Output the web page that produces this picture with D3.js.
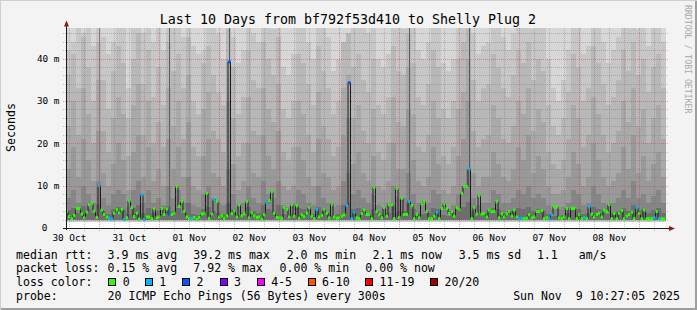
<!DOCTYPE html>
<html><head><meta charset="utf-8">
<script src="https://cdn.jsdelivr.net/npm/d3@7"></script>
<style>
html,body{margin:0;padding:0;background:#f3f3f3;}
svg{display:block;}
text{font-family:"DejaVu Sans Mono",monospace;fill:#000;white-space:pre;}
</style>
</head><body>
<svg id="c" width="697" height="310"></svg>
<script>
// ---------- data ----------
const title = "Last 10 Days from bf792f53d410 to Shelly Plug 2";
const endTime = new Date(2025, 10, 9, 10, 27, 5);
const spanDays = 10;
const yMax = 47.2;              // ms, top of the plot
const yGridMinorStep = 2;       // ms
const yLabelValues = [0, 10, 20, 30, 40];
const yLabelTexts = ["0", "10 m", "20 m", "30 m", "40 m"];
const yAxisTitle = "Seconds";

// hourly median rtt (ms), 240 hours
const median = [
3.9,2.7,2.2,3.0,4.6,4.6,3.3,2.4,3.8,5.5, 5.8,4.0,2.5,10.0,4.2,3.2,2.6,2.3,2.1,3.5,
4.3,3.6,4.4,2.0,2.4,6.4,4.8,2.7,3.5,2.1, 7.8,2.0,2.6,2.6,2.2,4.5,2.4,2.6,4.6,3.2,
4.5,3.3,3.2,3.5,9.8,5.1,6.3,3.9,2.6,2.2, 2.2,2.5,2.1,2.5,3.3,3.4,8.2,2.3,3.3,6.7,
6.3,2.6,2.9,2.3,2.9,39.2,3.4,4.0,2.6,5.5, 2.9,3.3,6.3,2.4,3.6,2.9,2.5,2.6,2.1,3.1,
6.0,6.5,8.6,3.5,2.5,2.4,2.3,4.8,4.4,2.6, 5.5,2.8,5.3,2.3,3.1,2.7,3.5,4.8,2.8,2.2,
4.4,2.6,3.0,4.4,3.5,2.4,5.7,2.6,2.3,2.4, 2.8,3.1,5.3,34.3,2.2,3.7,2.4,2.2,3.4,4.2,
3.2,3.2,2.2,9.6,3.9,3.1,2.4,4.8,2.8,5.5, 5.5,2.2,9.3,2.5,7.0,3.2,3.2,6.3,5.3,2.2,
3.2,2.4,5.7,6.3,3.9,2.2,2.2,2.8,3.7,2.2, 4.6,5.7,4.6,3.4,3.9,2.8,4.8,4.4,8.2,9.8,
9.8,13.9,2.2,4.8,3.3,7.7,3.3,3.4,2.6,4.2, 3.9,3.9,6.3,2.4,3.3,2.6,3.3,3.9,2.8,4.2,
2.6,2.2,2.2,2.2,2.3,3.1,2.4,2.6,3.9,3.9, 4.1,2.2,2.4,2.2,3.1,5.0,5.0,2.4,2.2,2.6,
4.6,2.2,4.6,4.6,2.2,3.1,2.2,2.4,2.2,5.0, 3.3,2.6,3.2,3.5,2.6,4.2,3.9,5.5,2.2,3.4,
2.2,3.5,4.1,2.2,2.8,3.2,3.7,2.2,4.8,3.4, 2.2,4.2,2.2,2.2,2.2,2.4,3.9,2.2,2.2,2.1
];
// hours with 1 lost ping and with 2 lost pings
const lossOneHours = [13,17,18,23,30,31,50,59,80,100,112,114,115,137,148,161,181,182,193,194,207,209,228,235,237];
const lossTwoHours = [41,65,113];
// hours whose smoke stays dark up to the top of the graph
const streakHours = [13,41,65,137,161];
const streakShades = ["#8a8a8a","#5e5e5e","#5a5a5a","#5c5c5c","#585858"];

// smoke: 2-hour columns (120), upper edges of the grey bands (ms)
const smokeMinOuter = 1.5;
const smokeMinInner = 2.0;
const smokeA = [
42,44,50,46,50,43,50,45,41,44, 50,50,33,50,50,46,50,44,50,42, 50,50,50,45,50,43,41,42,50,50,
46,40,50,45,39,42,50,46,44,50, 50,47,50,38,36,41,50,50,44,40, 50,50,45,37,40,42,44,50,50,50,
46,50,40,38,41,50,50,47,50,50, 42,40,44,50,50,39,37,40,50,50, 50,46,41,43,44,50,50,45,42,46,
50,50,50,47,50,50,40,33,30,35, 42,50,50,41,43,50,50,44,39,42, 45,50,50,50,47,50,43,50,50,44];
const smokeB = [
36,41,33,45,38,30,44,35,28,37, 43,39,26,40,46,34,42,31,38,29, 44,37,41,33,45,30,27,39,43,36,
32,29,47,38,27,31,42,35,33,44, 40,36,45,28,26,30,41,39,34,29, 43,37,33,27,30,44,46,38,41,35,
32,40,29,27,31,43,37,36,46,39, 31,29,34,42,38,28,26,30,40,44, 47,35,30,33,34,41,38,33,31,36,
42,39,44,35,40,37,29,24,22,26, 32,41,38,30,33,43,39,34,29,31, 35,42,37,44,36,40,32,38,41,33];
const smokeC = [
24,30,22,33,27,20,35,23,18,26, 31,27,17,29,34,22,30,20,25,19, 33,24,30,21,36,19,17,28,32,23,
21,18,40,26,17,20,31,23,22,33, 28,25,34,18,16,19,30,27,22,18, 32,24,21,17,19,33,36,26,29,23,
20,28,18,16,20,31,25,24,38,27, 19,18,22,30,26,17,15,19,28,32, 40,23,19,21,22,29,26,21,20,24,
30,27,33,23,28,25,18,15,14,16, 21,29,26,19,22,31,27,22,18,20, 23,30,25,33,24,28,20,26,29,21];
const smokeD = [
14,19,12,21,16,11,23,13,10,15, 20,16,9,18,22,12,19,11,14,10, 21,14,19,12,25,10,9,17,21,13,
12,10,30,15,9,11,20,13,12,22, 17,14,23,10,9,10,19,16,12,10, 21,13,12,9,10,22,26,15,18,13,
11,17,10,9,11,20,14,14,28,16, 11,10,12,19,15,9,8,10,17,21, 30,13,10,12,12,18,15,12,11,14,
19,16,22,13,17,14,10,8,8,9, 12,18,15,10,12,20,16,12,10,11, 13,19,14,22,13,17,11,15,18,12];
const smokeE = [
7,9,6,10,8,6,11,7,5.5,8, 9,8,5,9,11,6,9,6,7,5.5, 10,7,9,6,12,5.5,5,8,10,7,
6,5.5,14,8,5,6,10,7,6,11, 8,7,11,5.5,5,5.5,9,8,6,5.5, 10,7,6,5,5.5,11,13,8,9,7,
6,8,5.5,5,6,10,7,7,13,8, 6,5.5,6,9,8,5,4.5,5.5,8,10, 14,7,5.5,6,6,9,8,6,6,7,
9,8,10,7,8,7,5.5,4.5,4.5,5, 6,9,8,5.5,6,10,8,6,5.5,6, 7,9,7,11,7,8,6,7.5,9,6];
const smokeF = [
4.2,4.8,3.6,5.2,4.4,3.5,5.6,4.0,3.3,4.5, 4.9,4.3,3.2,4.8,5.5,3.6,4.7,3.5,4.0,3.3,
5.1,4.0,4.8,3.6,5.8,3.3,3.1,4.4,5.0,4.0, 3.6,3.3,6.0,4.4,3.1,3.5,5.0,4.0,3.6,5.4,
4.4,4.0,5.4,3.3,3.0,3.3,4.8,4.4,3.6,3.3, 5.0,4.0,3.6,3.1,3.3,5.4,6.0,4.4,4.8,4.0,
3.6,4.4,3.3,3.1,3.6,5.0,4.0,4.0,6.0,4.4, 3.6,3.3,3.6,4.8,4.4,3.1,2.9,3.3,4.4,5.0,
6.2,4.0,3.3,3.6,3.6,4.8,4.4,3.6,3.6,4.0, 4.8,4.4,5.0,4.0,4.4,4.0,3.3,2.9,2.9,3.1,
3.6,4.8,4.4,3.3,3.6,5.0,4.4,3.6,3.3,3.6, 4.0,4.8,4.0,5.4,4.0,4.4,3.6,4.2,4.8,3.6];

// legend
const legendRtt = ["median rtt:", "3.9 ms avg", "39.2 ms max", "2.0 ms min", "2.1 ms now", "3.5 ms sd", "1.1", "am/s"];
const legendLoss = ["packet loss:", "0.15 % avg", "7.92 % max", "0.00 % min", "0.00 % now"];
const lossLabels = ["0", "1", "2", "3", "4-5", "6-10", "11-19", "20/20"];
const lossColors = ["#26ff00", "#00b8ff", "#0059ff", "#7e00ff", "#ff00ff", "#ff5500", "#ff0000", "#a10000"];
const probeText = ["probe:", "20 ICMP Echo Pings (56 Bytes) every 300s"];
const dateText = "Sun Nov\u00a0\u00a09 10:27:05 2025";
const watermark = "RRDTOOL / TOBI OETIKER";

// ---------- drawing ----------
const W = 697, H = 310;
const svg = d3.select("#c");
const startTime = d3.timeDay.offset(endTime, -spanDays);
const x = d3.scaleTime().domain([startTime, endTime]).range([65.5, 665.5]);
const y = d3.scaleLinear().domain([0, yMax]).range([228, 28]);
const PX0 = 66, PX1 = 666, PY0 = 28, PY1 = 228;

// background + frame
svg.append("rect").attr("width", W).attr("height", H).attr("fill", "#f3f3f3");
svg.append("path").attr("d", `M0,${H} V0 H${W}`).attr("fill","none").attr("stroke","#cfcfcf").attr("stroke-width",2);
svg.append("path").attr("d", `M1,${H-1} H${W-1} V1`).attr("fill","none").attr("stroke","#9e9e9e").attr("stroke-width",2);

svg.append("defs").append("clipPath").attr("id","plotclip")
  .append("rect").attr("x",PX0).attr("y",PY0).attr("width",PX1-PX0).attr("height",PY1-PY0);
svg.append("rect").attr("x",PX0).attr("y",PY0).attr("width",PX1-PX0).attr("height",PY1-PY0).attr("fill","#fff");

const plot = svg.append("g").attr("clip-path","url(#plotclip)");

// smoke
const colX = j => x(d3.timeHour.offset(startTime, 2*j));
const bands = [
  {top: smokeA.map(() => yMax + 5), bot: smokeMinOuter, color: "#d7d7d7"},
  {top: smokeA, bot: smokeMinOuter, color: "#c7c7c7"},
  {top: smokeB, bot: smokeMinInner, color: "#b8b8b8"},
  {top: smokeC, bot: smokeMinInner, color: "#a9a9a9"},
  {top: smokeD, bot: smokeMinInner, color: "#999999"},
  {top: smokeE, bot: smokeMinInner, color: "#868686"},
  {top: smokeF, bot: smokeMinInner, color: "#6e6e6e"}
];
const smokeG = plot.append("g").attr("shape-rendering","crispEdges");
bands.forEach(b => {
  smokeG.append("g").selectAll("rect").data(b.top).join("rect")
    .attr("x", (d,j) => colX(j))
    .attr("width", (d,j) => colX(j+1) - colX(j))
    .attr("y", d => y(Math.min(d, yMax + 2)))
    .attr("height", d => y(b.bot) - y(Math.min(d, yMax + 2)))
    .attr("fill", b.color);
});

const hx = h => x(d3.timeHour.offset(startTime, h));
// dark streaks
smokeG.append("g").selectAll("rect").data(streakHours).join("rect")
  .attr("x", h => hx(h) + 0.5).attr("width", 1.5)
  .attr("y", y(yMax + 2))
  .attr("height", h => y(median[h]) - y(yMax + 2))
  .attr("fill", (h,i) => streakShades[i]);

// grid
const gridG = svg.append("g");
const minorGrid = "rgba(110,110,110,0.40)";
const majorGrid = "rgba(225,40,40,0.45)";
d3.range(yGridMinorStep, yMax, yGridMinorStep).forEach(v => {
  const yy = Math.round(y(v)) + 0.5;
  const major = v % 10 === 0;
  gridG.append("line").attr("x1", PX0 - 3).attr("x2", PX1 + 3).attr("y1", yy).attr("y2", yy)
    .attr("stroke", major ? majorGrid : minorGrid).attr("stroke-dasharray", "1,1");
});
x.ticks(d3.timeHour.every(6)).forEach(t => {
  const xx = Math.round(x(t)) + 0.5;
  if (xx <= PX0 + 1) return;
  const major = t.getHours() === 0;
  gridG.append("line").attr("x1", xx).attr("x2", xx).attr("y1", PY0).attr("y2", PY1 + 3)
    .attr("stroke", major ? majorGrid : minorGrid).attr("stroke-dasharray", "1,1");
});

// median line
const medG = plot.append("g");
const stepPts = [];
median.forEach((m, h) => { stepPts.push([hx(h), y(m)]); stepPts.push([hx(h+1), y(m)]); });
medG.append("path").attr("d", d3.line()(stepPts)).attr("fill","none").attr("stroke","#1c1c1c").attr("stroke-width",1);
const lossOf = h => lossTwoHours.includes(h) ? 2 : (lossOneHours.includes(h) ? 1 : 0);
medG.append("g").selectAll("rect").data(median).join("rect")
  .attr("x", (m,h) => hx(h)).attr("width", (m,h) => hx(h+1) - hx(h))
  .attr("y", m => y(m) - 1.5).attr("height", 3)
  .attr("fill", (m,h) => lossColors[lossOf(h)]);

// axes
const axisColor = "#1a1a1a", arrowColor = "#8b1a1a";
svg.append("line").attr("x1", 66.5).attr("x2", 66.5).attr("y1", 230).attr("y2", 25).attr("stroke", axisColor);
svg.append("line").attr("x1", 63).attr("x2", 670).attr("y1", 228.5).attr("y2", 228.5).attr("stroke", axisColor);
svg.append("path").attr("d", "M64,26.5 L69,26.5 L66.5,20.5 Z").attr("fill", arrowColor);
svg.append("path").attr("d", "M669,226 L669,231 L675,228.5 Z").attr("fill", arrowColor);

// y labels
svg.append("g").selectAll("text").data(yLabelValues).join("text")
  .attr("x", (v,i) => v === 0 ? 47.5 : 59.5).attr("y", v => y(v) + 3.4)
  .attr("text-anchor","end").attr("font-size", 9.4)
  .text((v,i) => yLabelTexts[i]);

// x labels: centred at noon of each day
const fmt = d3.timeFormat("%d %b");
d3.timeDay.range(d3.timeDay.floor(startTime), endTime).forEach(d => {
  const noon = d3.timeHour.offset(d, 12);
  if (noon < startTime || noon > endTime) return;
  svg.append("text").attr("x", x(noon)).attr("y", 241).attr("text-anchor","middle")
    .attr("font-size", 9.4).text(fmt(noon));
});

// titles
svg.append("text").attr("x", 348).attr("y", 23.5).attr("text-anchor","middle").attr("font-size", 13.3).text(title);
svg.append("text").attr("transform","translate(15,127.5) rotate(-90)").attr("text-anchor","middle")
  .attr("font-size", 11.6).text(yAxisTitle);
svg.append("text").attr("transform","translate(684.5,5) rotate(90)").attr("font-size", 8.2)
  .style("fill","#a8a8a8").text(watermark);

// legend
const LF = 11.55;
const leg = svg.append("g").attr("font-size", LF);
const rttX = [16, 107.6, 193.3, 286.7, 372.4, 458.7, 536.9, 578.7];
legendRtt.forEach((s,i) => leg.append("text").attr("x", rttX[i]).attr("y", 258.8).text(s));
const lossX = [16, 107.6, 193.3, 279.6, 365.3];
legendLoss.forEach((s,i) => leg.append("text").attr("x", lossX[i]).attr("y", 272.3).text(s));
leg.append("text").attr("x", 16).attr("y", 285.8).text("loss color:");
const boxX = [108.4, 144.9, 182.2, 219.6, 256.9, 307.6, 365.3, 430.2];
lossLabels.forEach((s,i) => {
  leg.append("rect").attr("x", Math.round(boxX[i]) + 0.5).attr("y", 278.5).attr("width", 7).attr("height", 7)
    .attr("fill", lossColors[i]).attr("stroke", "#000").attr("stroke-width", 1);
  leg.append("text").attr("x", boxX[i] + 14.3).attr("y", 285.8).text(s);
});
leg.append("text").attr("x", 16).attr("y", 299.8).text(probeText[0]);
leg.append("text").attr("x", 107.6).attr("y", 299.8).text(probeText[1]);
leg.append("text").attr("x", 680).attr("y", 299.8).attr("text-anchor","end").text(dateText);
</script>
</body></html>
